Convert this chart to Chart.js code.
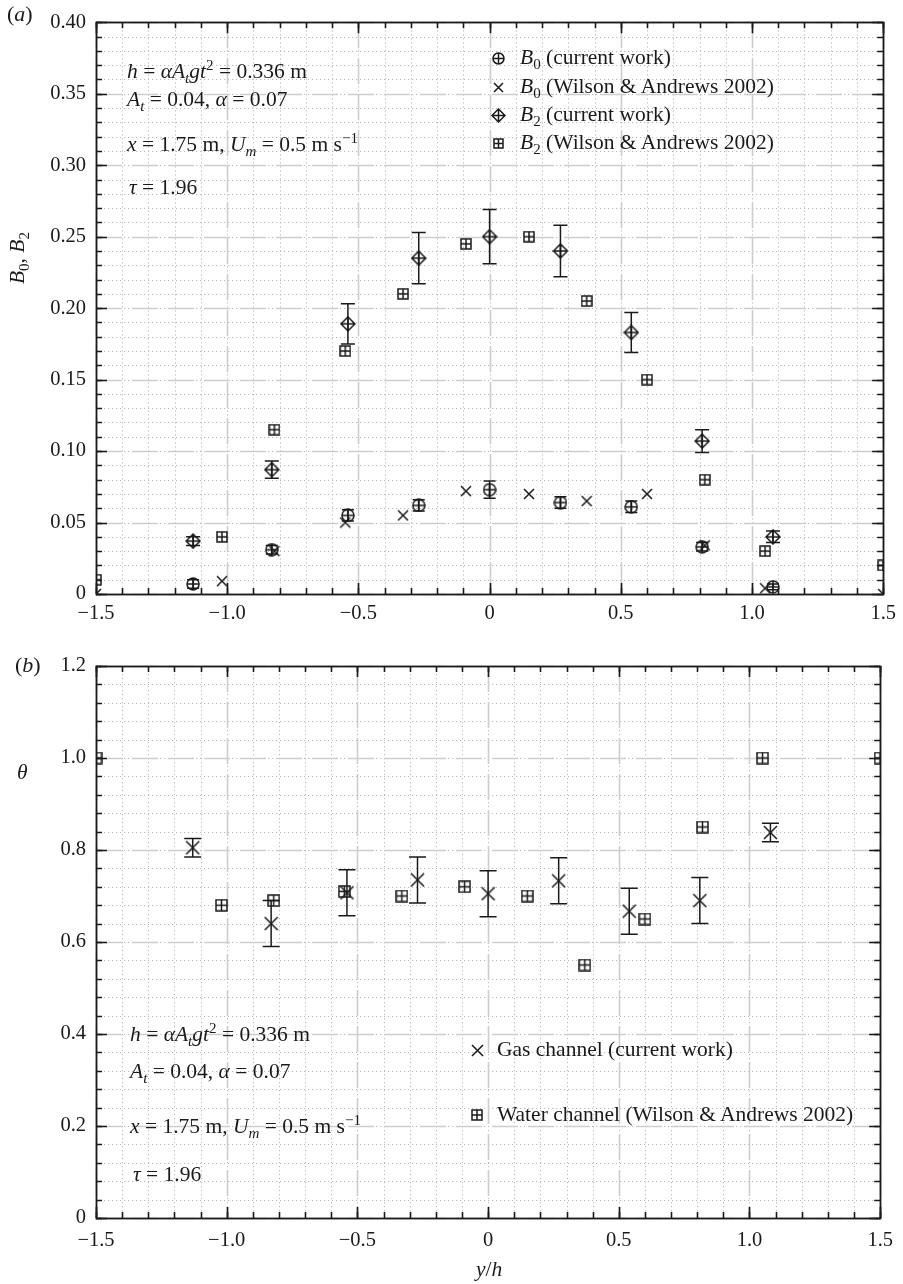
<!DOCTYPE html>
<html>
<head>
<meta charset="utf-8">
<script src="https://cdn.jsdelivr.net/npm/chart.js@4.4.0/dist/chart.umd.min.js"></script>
<style>
  body { margin: 0; background: #fff; }
  #page { position: relative; width: 903px; height: 1284px; overflow: hidden;
          font-family: "Liberation Serif", "Times New Roman", serif; color: #1a1a1a; }
  #page canvas.chart { position: absolute; left: 0; }
  .txt { position: absolute; font-size: 21.5px; line-height: 26px; white-space: nowrap; }
  .txt sub, .txt sup { font-size: 0.7em; line-height: 0; position: relative; vertical-align: baseline; }
  .txt sub { top: 0.35em; }
  .txt sup { top: -0.55em; }
  .mk { position: absolute; }
</style>
</head>
<body>
<div id="page">
  <canvas id="chartA" class="chart" width="903" height="640" style="top:0"></canvas>
  <canvas id="chartB" class="chart" width="903" height="644" style="top:640px"></canvas>

  <!-- panel (a) texts -->
  <div class="txt" style="left:7px;top:1px;font-size:22px">(<i>a</i>)</div>
  <div class="txt" style="left:-9px;top:245px;transform:rotate(-90deg)"><i>B</i><sub>0</sub>, <i>B</i><sub>2</sub></div>
  <div class="txt" style="left:127px;top:58px"><i>h</i> = <i>αA<sub>t</sub>gt</i><sup>2</sup> = 0.336 m</div>
  <div class="txt" style="left:127px;top:86px"><i>A<sub>t</sub></i> = 0.04, <i>α</i> = 0.07</div>
  <div class="txt" style="left:127px;top:131px"><i>x</i> = 1.75 m, <i>U<sub>m</sub></i> = 0.5 m s<sup>−1</sup></div>
  <div class="txt" style="left:129px;top:174px"><i>τ</i> = 1.96</div>

  <div class="txt" style="left:520px;top:44px"><i>B</i><sub>0</sub> (current work)</div>
  <div class="txt" style="left:520px;top:73px"><i>B</i><sub>0</sub> (Wilson &amp; Andrews 2002)</div>
  <div class="txt" style="left:520px;top:101px"><i>B</i><sub>2</sub> (current work)</div>
  <div class="txt" style="left:520px;top:129px"><i>B</i><sub>2</sub> (Wilson &amp; Andrews 2002)</div>

  <!-- panel (b) texts -->
  <div class="txt" style="left:15px;top:652px;font-size:22px">(<i>b</i>)</div>
  <div class="txt" style="left:17px;top:759px"><i>θ</i></div>
  <div class="txt" style="left:130px;top:1021px"><i>h</i> = <i>αA<sub>t</sub>gt</i><sup>2</sup> = 0.336 m</div>
  <div class="txt" style="left:130px;top:1058px"><i>A<sub>t</sub></i> = 0.04, <i>α</i> = 0.07</div>
  <div class="txt" style="left:130px;top:1113px"><i>x</i> = 1.75 m, <i>U<sub>m</sub></i> = 0.5 m s<sup>−1</sup></div>
  <div class="txt" style="left:133px;top:1161px"><i>τ</i> = 1.96</div>

  <div class="txt" style="left:497px;top:1036px">Gas channel (current work)</div>
  <div class="txt" style="left:497px;top:1101px">Water channel (Wilson &amp; Andrews 2002)</div>

  <div class="txt" style="left:476px;top:1256px"><i>y</i>/<i>h</i></div>
</div>

<script>
// Positions across the channel (y/h)
const curX = [-1.13, -0.83, -0.54, -0.27, 0, 0.27, 0.54, 0.81, 1.08];
const waX = [-1.5, -1.02, -0.82, -0.55, -0.33, -0.09, 0.15, 0.37, 0.6, 0.82, 1.05, 1.5];

// Panel (a)
const b0Cur = [0.007, 0.031, 0.055, 0.062, 0.073, 0.064, 0.061, 0.033, 0.005];
const b0CurErr = [0.003, 0.003, 0.004, 0.004, 0.006, 0.004, 0.004, 0.003, 0.002];
const b0Wa = [0, 0.009, 0.030, 0.050, 0.055, 0.072, 0.070, 0.065, 0.070, 0.034, 0.004, 0];
const b2Cur = [0.037, 0.087, 0.189, 0.235, 0.250, 0.240, 0.183, 0.107, 0.040];
const b2CurErr = [0.003, 0.006, 0.014, 0.018, 0.019, 0.018, 0.014, 0.008, 0.004];
const b2Wa = [0.010, 0.040, 0.115, 0.170, 0.210, 0.245, 0.250, 0.205, 0.150, 0.080, 0.030, 0.020];

// Panel (b)
const gasTheta = [0.805, 0.64, 0.707, 0.735, 0.705, 0.733, 0.667, 0.69, 0.838];
const gasErr = [0.02, 0.05, 0.05, 0.05, 0.05, 0.05, 0.05, 0.05, 0.02];
const waterTheta = [1.0, 0.68, 0.69, 0.71, 0.70, 0.72, 0.70, 0.55, 0.65, 0.85, 1.0, 1.0];

// Tick labels
const xTickVals = [-1.5, -1, -0.5, 0, 0.5, 1, 1.5];
const xTickLabels = ['\u22121.5', '\u22121.0', '\u22120.5', '0', '0.5', '1.0', '1.5'];
const yTickValsA = [0, 0.05, 0.1, 0.15, 0.2, 0.25, 0.3, 0.35, 0.4];
const yTickLabelsA = ['0', '0.05', '0.10', '0.15', '0.20', '0.25', '0.30', '0.35', '0.40'];
const yTickValsB = [0, 0.2, 0.4, 0.6, 0.8, 1.0, 1.2];
const yTickLabelsB = ['0', '0.2', '0.4', '0.6', '0.8', '1.0', '1.2'];

const INK = '#1a1a1a';

function pts(xs, ys) {
    return xs.map((x, i) => ({ x: x, y: ys[i] }));
}

// Marker glyphs drawn on small canvases, used as point styles
function makeMarker(kind, size) {
    const c = document.createElement('canvas');
    c.width = c.height = size;
    const g = c.getContext('2d');
    const m = size / 2;
    const r = size / 2 - 1;
    g.strokeStyle = INK;
    g.lineWidth = 1.5;
    g.beginPath();
    if (kind === 'circlePlus') {
        g.arc(m, m, r, 0, Math.PI * 2);
        g.moveTo(m - r, m); g.lineTo(m + r, m);
        g.moveTo(m, m - r); g.lineTo(m, m + r);
    } else if (kind === 'cross') {
        g.moveTo(m - r, m - r); g.lineTo(m + r, m + r);
        g.moveTo(m + r, m - r); g.lineTo(m - r, m + r);
    } else if (kind === 'diamondPlus') {
        g.moveTo(m, m - r); g.lineTo(m + r, m); g.lineTo(m, m + r); g.lineTo(m - r, m); g.closePath();
        g.moveTo(m - r, m); g.lineTo(m + r, m);
        g.moveTo(m, m - r); g.lineTo(m, m + r);
    } else if (kind === 'squarePlus') {
        g.rect(m - r, m - r, 2 * r, 2 * r);
        g.moveTo(m - r, m); g.lineTo(m + r, m);
        g.moveTo(m, m - r); g.lineTo(m, m + r);
    }
    g.stroke();
    return c;
}

// Legend markers as HTML canvases
function legendMarker(kind, size, cx, cy) {
    const c = makeMarker(kind, size);
    c.className = 'mk';
    c.style.left = (cx - size / 2) + 'px';
    c.style.top = (cy - size / 2) + 'px';
    document.getElementById('page').appendChild(c);
}

function stepsOf(s, step) {
    const n = Math.round((s.max - s.min) / step);
    const out = [];
    for (let i = 0; i <= n; i++) out.push(s.min + i * step);
    return out;
}

// Grid, error bars, frame and inward ticks
const framePlugin = {
    id: 'frame',
    beforeDatasetsDraw(chart, args, opts) {
        const { ctx, chartArea: a, scales: { x, y } } = chart;
        ctx.save();
        const vline = (v, dash, color, w) => {
            const px = Math.round(x.getPixelForValue(v)) + 0.5;
            ctx.strokeStyle = color; ctx.lineWidth = w; ctx.setLineDash(dash);
            ctx.beginPath(); ctx.moveTo(px, a.top); ctx.lineTo(px, a.bottom); ctx.stroke();
        };
        const hline = (v, dash, color, w) => {
            const py = Math.round(y.getPixelForValue(v)) + 0.5;
            ctx.strokeStyle = color; ctx.lineWidth = w; ctx.setLineDash(dash);
            ctx.beginPath(); ctx.moveTo(a.left, py); ctx.lineTo(a.right, py); ctx.stroke();
        };
        stepsOf(x, opts.xMinor).forEach(v => vline(v, [1.2, 2.8], '#b8b8b8', 1));
        stepsOf(y, opts.yMinor).forEach(v => hline(v, [1.2, 2.8], '#b8b8b8', 1));
        stepsOf(x, opts.xMajor).forEach(v => vline(v, [26, 10], '#cdcdcd', 1.6));
        stepsOf(y, opts.yMajor).forEach(v => hline(v, [26, 10], '#cdcdcd', 1.6));

        // error bars
        ctx.setLineDash([]);
        ctx.strokeStyle = INK;
        ctx.lineWidth = 1.5;
        chart.data.datasets.forEach(ds => {
            if (!ds.errors) return;
            ds.data.forEach((p, i) => {
                const e = ds.errors[i];
                const px = x.getPixelForValue(p.x);
                const y1 = y.getPixelForValue(p.y + e);
                const y2 = y.getPixelForValue(p.y - e);
                const c = ds.capHalf;
                ctx.beginPath();
                ctx.moveTo(px, y1); ctx.lineTo(px, y2);
                ctx.moveTo(px - c, y1); ctx.lineTo(px + c, y1);
                ctx.moveTo(px - c, y2); ctx.lineTo(px + c, y2);
                ctx.stroke();
            });
        });
        ctx.restore();
    },
    afterDatasetsDraw(chart, args, opts) {
        const { ctx, chartArea: a, scales: { x, y } } = chart;
        ctx.save();
        ctx.strokeStyle = INK;
        ctx.lineWidth = 1.6;
        ctx.setLineDash([]);
        const drawX = (step, len) => stepsOf(x, step).forEach(v => {
            const px = Math.round(x.getPixelForValue(v)) + 0.5;
            ctx.beginPath();
            ctx.moveTo(px, a.bottom); ctx.lineTo(px, a.bottom - len);
            ctx.moveTo(px, a.top); ctx.lineTo(px, a.top + len);
            ctx.stroke();
        });
        const drawY = (step, len) => stepsOf(y, step).forEach(v => {
            const py = Math.round(y.getPixelForValue(v)) + 0.5;
            ctx.beginPath();
            ctx.moveTo(a.left, py); ctx.lineTo(a.left + len, py);
            ctx.moveTo(a.right, py); ctx.lineTo(a.right - len, py);
            ctx.stroke();
        });
        drawX(opts.xMinor, 6);
        drawX(opts.xMajor, 11);
        drawY(opts.yMinor, 6);
        drawY(opts.yMajor, 11);
        ctx.lineWidth = 1.8;
        ctx.strokeRect(Math.round(a.left) + 0.5, Math.round(a.top) + 0.5,
            Math.round(a.right - a.left), Math.round(a.bottom - a.top));
        ctx.restore();
    }
};

function makeOptions(yMax, yVals, yLabels, yMinor, yMajor, pad, xHeight, xPad) {
    return {
        responsive: false,
        animation: false,
        events: [],
        layout: { padding: pad },
        plugins: {
            legend: { display: false },
            tooltip: { enabled: false },
            frame: { xMinor: 0.1, xMajor: 0.5, yMinor: yMinor, yMajor: yMajor }
        },
        scales: {
            x: {
                type: 'linear',
                min: -1.5,
                max: 1.5,
                grid: { display: false, drawTicks: false },
                border: { display: false },
                afterBuildTicks: s => { s.ticks = xTickVals.map(v => ({ value: v })); },
                afterFit: s => { s.height = xHeight; },
                ticks: {
                    autoSkip: false,
                    maxRotation: 0,
                    padding: xPad,
                    color: INK,
                    font: { family: '"Liberation Serif", serif', size: 20.5 },
                    callback: (v, i) => xTickLabels[i]
                }
            },
            y: {
                type: 'linear',
                min: 0,
                max: yMax,
                grid: { display: false, drawTicks: false },
                border: { display: false },
                afterBuildTicks: s => { s.ticks = yVals.map(v => ({ value: v })); },
                afterFit: s => { s.width = 96; },
                ticks: {
                    autoSkip: false,
                    padding: 10,
                    color: INK,
                    font: { family: '"Liberation Serif", serif', size: 20.5 },
                    callback: (v, i) => yLabels[i]
                }
            }
        }
    };
}

function initChartA() {
    const mCircle = makeMarker('circlePlus', 14);
    const mCross = makeMarker('cross', 12);
    const mDiamond = makeMarker('diamondPlus', 16);
    const mSquare = makeMarker('squarePlus', 12);
    new Chart(document.getElementById('chartA'), {
        type: 'scatter',
        data: {
            datasets: [
                { label: 'B0 (current work)', data: pts(curX, b0Cur), errors: b0CurErr, capHalf: 6, pointStyle: mCircle },
                { label: 'B0 (Wilson & Andrews 2002)', data: pts(waX, b0Wa), pointStyle: mCross },
                { label: 'B2 (current work)', data: pts(curX, b2Cur), errors: b2CurErr, capHalf: 7, pointStyle: mDiamond },
                { label: 'B2 (Wilson & Andrews 2002)', data: pts(waX, b2Wa), pointStyle: mSquare }
            ]
        },
        options: makeOptions(0.4, yTickValsA, yTickLabelsA, 0.01, 0.05,
            { top: 15, right: 17, left: 0, bottom: 0 }, 46, 7),
        plugins: [framePlugin]
    });
    legendMarker('circlePlus', 13, 498, 58);
    legendMarker('cross', 11, 498, 87);
    legendMarker('diamondPlus', 15, 498, 115);
    legendMarker('squarePlus', 11, 498, 143);
}

function initChartB() {
    const mCross = makeMarker('cross', 15);
    const mSquare = makeMarker('squarePlus', 13);
    new Chart(document.getElementById('chartB'), {
        type: 'scatter',
        data: {
            datasets: [
                { label: 'Gas channel (current work)', data: pts(curX, gasTheta), errors: gasErr, capHalf: 8.5, pointStyle: mCross },
                { label: 'Water channel (Wilson & Andrews 2002)', data: pts(waX, waterTheta), pointStyle: mSquare }
            ]
        },
        options: makeOptions(1.2, yTickValsB, yTickLabelsB, 0.04, 0.2,
            { top: 26, right: 17, left: 0, bottom: 0 }, 66, 10),
        plugins: [framePlugin]
    });
    legendMarker('cross', 13, 477, 1050);
    legendMarker('squarePlus', 12, 477, 1115);
}

initChartA();
initChartB();
</script>
</body>
</html>
